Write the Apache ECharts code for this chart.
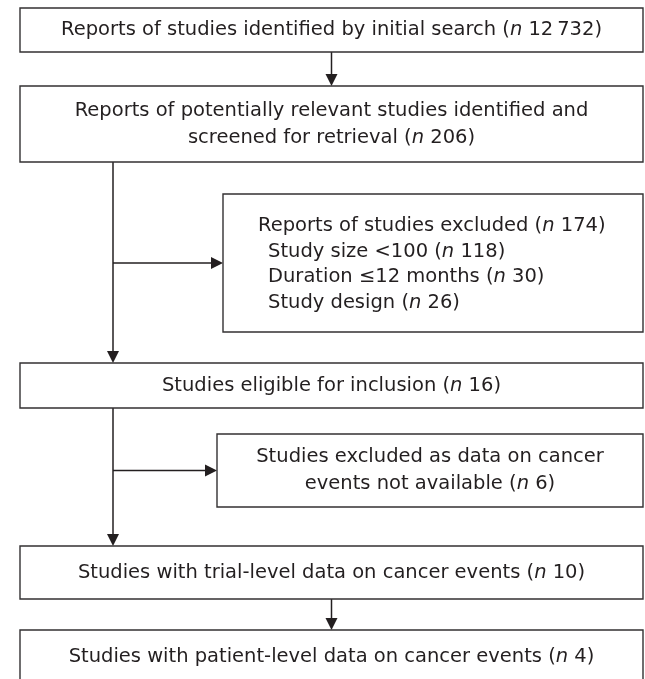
<!DOCTYPE html>
<html>
<head>
<meta charset="utf-8">
<title>Study selection flow</title>
<script src="https://cdn.jsdelivr.net/npm/echarts@6/dist/echarts.min.js"></script>
<style>
  html, body { margin: 0; padding: 0; background: #fff; }
  #chart { width: 645px; height: 679px; }
</style>
</head>
<body>
<div id="chart"></div>
<script>
// steps of the selection flow
const stepLabels = [
  'Reports of studies identified by initial search',
  'Reports of potentially relevant studies identified and\nscreened for retrieval',
  'Reports of studies excluded',
  'Studies eligible for inclusion',
  'Studies excluded as data on cancer\nevents not available',
  'Studies with trial-level data on cancer events',
  'Studies with patient-level data on cancer events'
]
const stepCounts = [12732, 206, 174, 16, 6, 10, 4]
// breakdown of the first exclusion box
const reasonLabels = ['Study size <100', 'Duration \u226412 months', 'Study design']
const reasonCounts = [118, 30, 26]

// box layout in page units: [x, y, width, height]
const boxes = [
  [20, 8, 623, 44],
  [20, 86, 623, 76],
  [223, 194, 420, 138],
  [20, 363, 623, 45],
  [217, 434, 426, 73],
  [20, 546, 623, 53],
  [20, 630, 623, 54]
]
const trunkX = 113
// connectors: kind, from box, to box
const links = [
  ['down', 0, 1],
  ['trunk', 1, 3],
  ['side', 1, 2],
  ['trunk', 3, 5],
  ['side', 3, 4],
  ['down', 5, 6]
]

const ink = '#231f20'
const boxStroke = '#333132'
const font = { fontFamily: 'DejaVu Sans', fontSize: 19.5 }
const rich = {
  n: { fontFamily: 'DejaVu Sans', fontSize: 19.5, fontStyle: 'italic', fill: ink }
}

function fmtCount(v) {
  return String(v).replace(/\B(?=(\d{3})+(?!\d))/g, '\u2009')
}
function withN(text, v) {
  return text + ' ({n|n} ' + fmtCount(v) + ')'
}

function renderBox(params, api) {
  const i = params.dataIndex
  const [x, y, w, h] = boxes[i]
  const p0 = api.coord([x, y])
  const p1 = api.coord([x + w, y + h])
  const children = [{
    type: 'rect',
    shape: { x: p0[0], y: p0[1], width: p1[0] - p0[0], height: p1[1] - p0[1] },
    style: { fill: '#fff', stroke: boxStroke, lineWidth: 1.4 }
  }]
  if (i === 2) {
    // left aligned list with indented reasons
    const tx = p0[0] + 35
    const top = p0[1] + 32
    children.push({
      type: 'text',
      style: Object.assign({ text: withN(stepLabels[i], stepCounts[i]), x: tx, y: top,
        align: 'left', verticalAlign: 'middle', fill: ink, rich }, font)
    })
    reasonLabels.forEach((r, k) => {
      children.push({
        type: 'text',
        style: Object.assign({ text: withN(r, reasonCounts[k]), x: tx + 10, y: top + 25.5 * (k + 1),
          align: 'left', verticalAlign: 'middle', fill: ink, rich }, font)
      })
    })
  } else {
    children.push({
      type: 'text',
      style: Object.assign({ text: withN(stepLabels[i], stepCounts[i]),
        x: (p0[0] + p1[0]) / 2, y: (p0[1] + p1[1]) / 2,
        align: 'center', verticalAlign: 'middle', lineHeight: 27, fill: ink, rich }, font)
    })
  }
  return { type: 'group', children }
}

function linkPoints(link) {
  const [kind, a, b] = link
  const A = boxes[a], B = boxes[b]
  if (kind === 'down') {
    const cx = A[0] + A[2] / 2
    return [[cx, A[1] + A[3]], [cx, B[1]], 'v']
  }
  if (kind === 'trunk') return [[trunkX, A[1] + A[3]], [trunkX, B[1]], 'v']
  const cy = B[1] + B[3] / 2
  return [[trunkX, cy], [B[0], cy], 'h']
}

function renderLink(params, api) {
  const [s, e, dir] = linkPoints(links[params.dataIndex])
  const p = api.coord(s)
  const q = api.coord(e)
  const len = 12, half = 6
  let head, stop
  if (dir === 'v') {
    stop = [q[0], q[1] - len]
    head = [[q[0] - half, q[1] - len], [q[0] + half, q[1] - len], [q[0], q[1]]]
  } else {
    stop = [q[0] - len, q[1]]
    head = [[q[0] - len, q[1] - half], [q[0] - len, q[1] + half], [q[0], q[1]]]
  }
  return {
    type: 'group',
    children: [
      { type: 'polyline', shape: { points: [p, stop] }, style: { stroke: ink, lineWidth: 1.5, fill: null } },
      { type: 'polygon', shape: { points: head }, style: { fill: ink } }
    ]
  }
}

const chart = echarts.init(document.getElementById('chart'))
chart.setOption({
  animation: false,
  backgroundColor: '#fff',
  grid: { left: 0, right: 0, top: 0, bottom: 0 },
  xAxis: { type: 'value', min: 0, max: 645, show: false },
  yAxis: { type: 'value', min: 0, max: 679, inverse: true, show: false },
  series: [
    {
      type: 'custom',
      name: 'links',
      renderItem: renderLink,
      data: links.map((l, i) => [i, 0]),
      silent: true
    },
    {
      type: 'custom',
      name: 'steps',
      renderItem: renderBox,
      data: stepCounts.map((c, i) => [i, c]),
      silent: true
    }
  ]
})
</script>
</body>
</html>
